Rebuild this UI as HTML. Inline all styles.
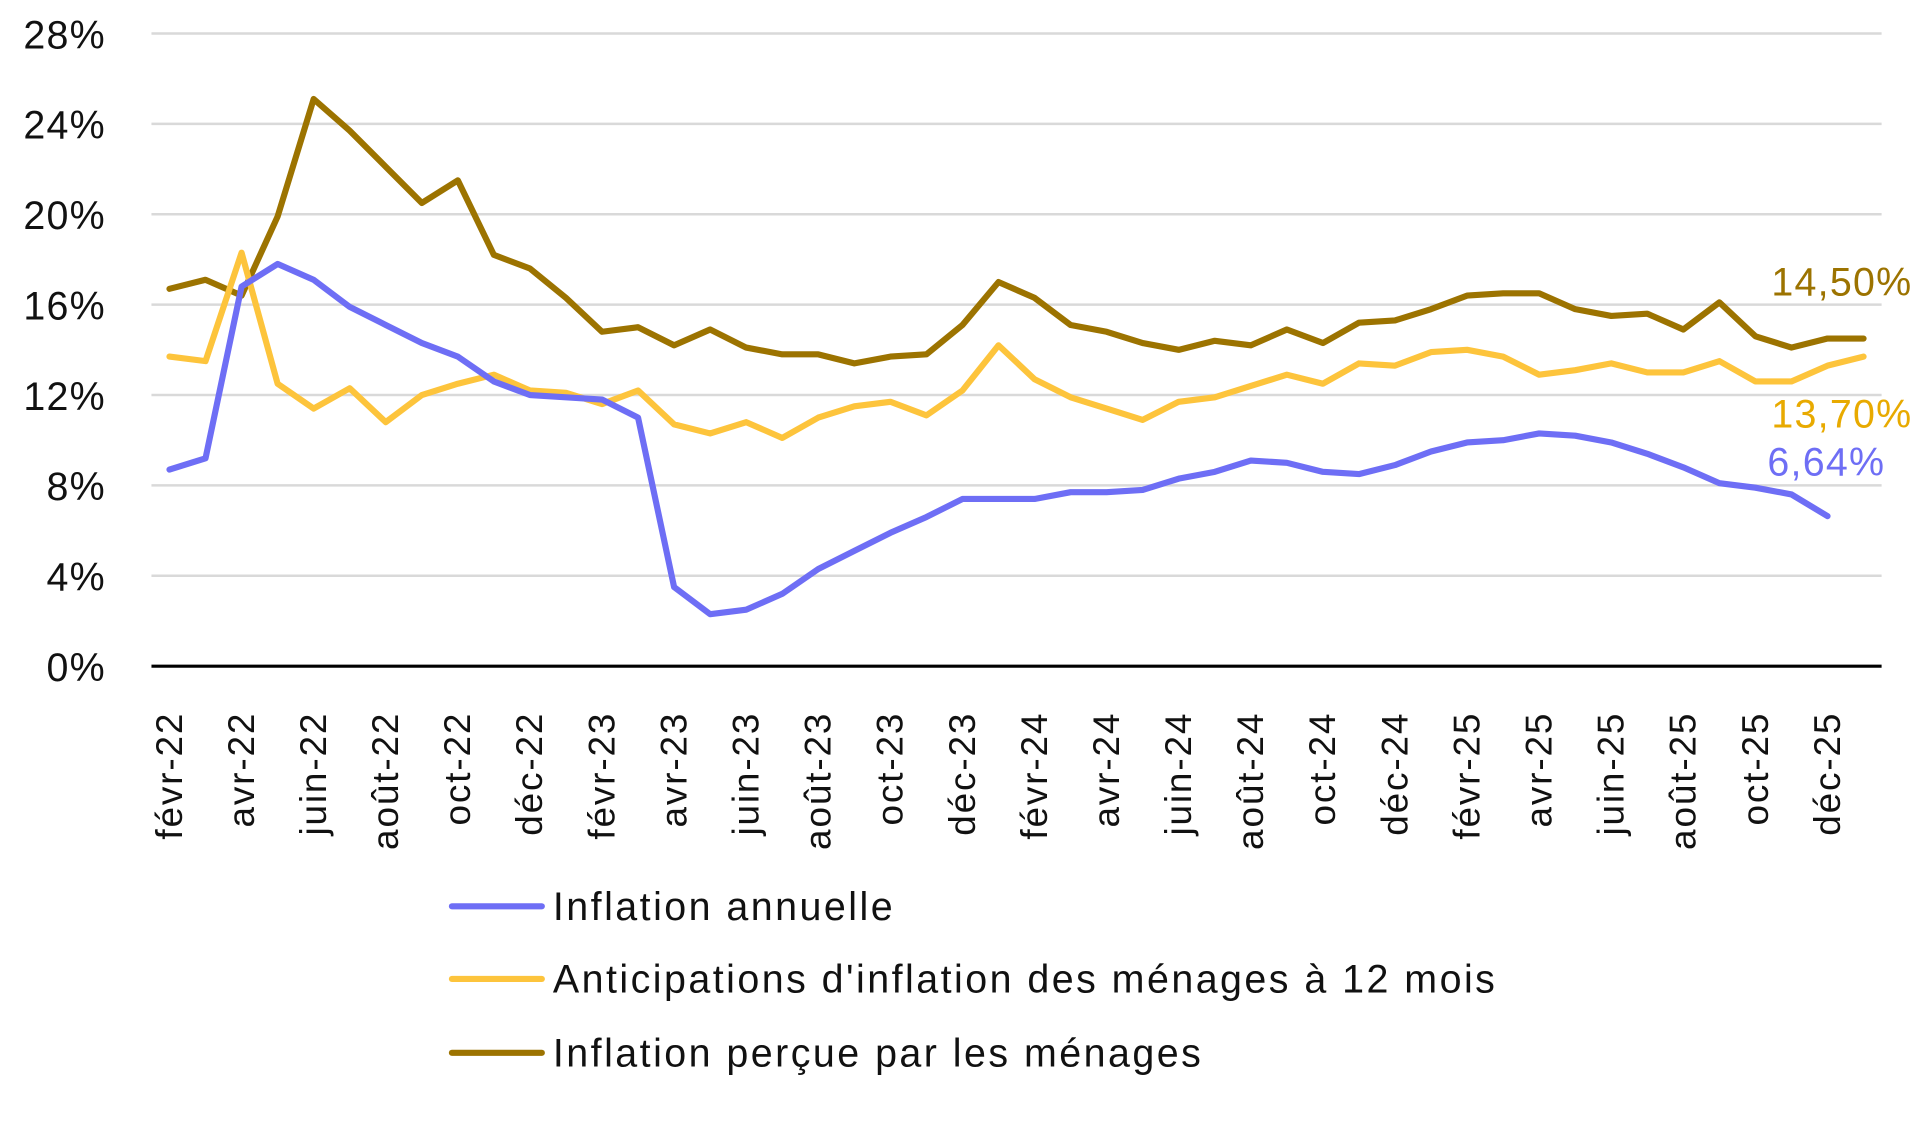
<!DOCTYPE html>
<html><head><meta charset="utf-8"><style>
html,body{margin:0;padding:0;background:#fff;}
svg{display:block;font-family:"Liberation Sans",sans-serif;}
</style></head><body>
<svg id="c" width="1921" height="1132" viewBox="0 0 1560 919.3" preserveAspectRatio="none" xmlns="http://www.w3.org/2000/svg"></svg>
<script>
const s=document.getElementById('c');const NS='http://www.w3.org/2000/svg';
function el(t,a,txt){const e=document.createElementNS(NS,t);for(const k in a)e.setAttribute(k,a[k]);if(txt!==undefined)e.textContent=txt;s.appendChild(e);return e;}
const x0=123,x1=1528,y0=541,per=73.4/4,n=48,w=(x1-x0)/n;
const X=i=>x0+w*(i+0.5),Y=v=>y0-v*per;
for(let v=4;v<=28;v+=4){el('line',{x1:x0,x2:x1,y1:Y(v),y2:Y(v),stroke:'#d9d9d9','stroke-width':2});}
for(let v=0;v<=28;v+=4){el('text',{x:86,y:Y(v)+12,'text-anchor':'end','font-size':32,'letter-spacing':1,fill:'#111'},v+'%');}
el('line',{x1:x0,x2:x1,y1:y0,y2:y0,stroke:'#000','stroke-width':2.5});
const m=['janv','févr','mars','avr','mai','juin','juil','août','sept','oct','nov','déc'];
for(let i=0;i<n;i+=2){const mi=(1+i)%12,yr=22+Math.floor((1+i)/12);
el('text',{x:0,y:0,'text-anchor':'end','font-size':30,'letter-spacing':1.5,fill:'#111',transform:`translate(${X(i)+10},578) rotate(-90)`},m[mi]+'-'+yr);}
const blue=[8.7,9.2,16.8,17.8,17.1,15.9,15.1,14.3,13.7,12.6,12.0,11.9,11.8,11.0,3.5,2.3,2.5,3.2,4.3,5.1,5.9,6.6,7.4,7.4,7.4,7.7,7.7,7.8,8.3,8.6,9.1,9.0,8.6,8.5,8.9,9.5,9.9,10.0,10.3,10.2,9.9,9.4,8.8,8.1,7.9,7.6,6.64];
const yel=[13.7,13.5,18.3,12.5,11.4,12.3,10.8,12.0,12.5,12.9,12.2,12.1,11.6,12.2,10.7,10.3,10.8,10.1,11.0,11.5,11.7,11.1,12.2,14.2,12.7,11.9,11.4,10.9,11.7,11.9,12.4,12.9,12.5,13.4,13.3,13.9,14.0,13.7,12.9,13.1,13.4,13.0,13.0,13.5,12.6,12.6,13.3,13.7];
const br=[16.7,17.1,16.4,19.9,25.1,23.7,22.1,20.5,21.5,18.2,17.6,16.3,14.8,15.0,14.2,14.9,14.1,13.8,13.8,13.4,13.7,13.8,15.1,17.0,16.3,15.1,14.8,14.3,14.0,14.4,14.2,14.9,14.3,15.2,15.3,15.8,16.4,16.5,16.5,15.8,15.5,15.6,14.9,16.1,14.6,14.1,14.5,14.5];
function line(d,c){el('polyline',{points:d.map((v,i)=>X(i)+','+Y(v)).join(' '),fill:'none',stroke:c,'stroke-width':5,'stroke-linejoin':'round','stroke-linecap':'round'});}
line(br,'#9C7300');line(yel,'#FDC43C');line(blue,'#6E6EF5');
el('text',{x:1553,y:240,'text-anchor':'end','font-size':32,'letter-spacing':1,fill:'#9C7300'},'14,50%');
el('text',{x:1553,y:347,'text-anchor':'end','font-size':32,'letter-spacing':1,fill:'#E8AA00'},'13,70%');
el('text',{x:1531,y:386,'text-anchor':'end','font-size':32,'letter-spacing':1,fill:'#6E6EF5'},'6,64%');
const L=[['#6E6EF5','Inflation annuelle',736],['#FDC43C',"Anticipations d'inflation des ménages à 12 mois",795],['#9C7300','Inflation perçue par les ménages',855]];
for(const [c,t,y] of L){el('line',{x1:367,x2:440,y1:y,y2:y,stroke:c,'stroke-width':5,'stroke-linecap':'round'});el('text',{x:449,y:y+11,'font-size':32,'letter-spacing':2,fill:'#111'},t);}
</script>
</body></html>
